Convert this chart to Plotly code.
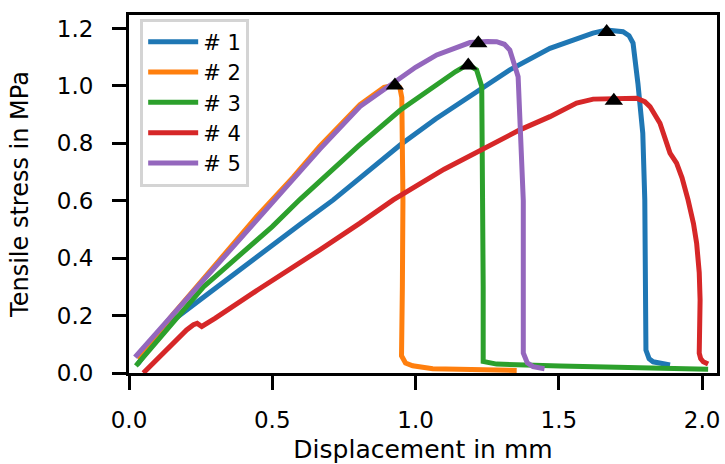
import plotly.graph_objects as go

# ---- data ----
names = ["# 1", "# 2", "# 3", "# 4", "# 5"]
colors = ["#1f77b4", "#ff7f0e", "#2ca02c", "#d62728", "#9467bd"]

x1 = [0.03, 0.08, 0.155, 0.30, 0.45, 0.60, 0.713, 0.83, 0.946, 1.07, 1.19, 1.329, 1.469,
      1.56, 1.619, 1.667, 1.724, 1.745, 1.759, 1.776, 1.793, 1.800, 1.802, 1.804, 1.815,
      1.829, 1.888]
y1 = [0.03, 0.10, 0.185, 0.295, 0.41, 0.52, 0.603, 0.70, 0.794, 0.885, 0.963, 1.056, 1.131,
      1.165, 1.184, 1.195, 1.189, 1.175, 1.149, 1.009, 0.835, 0.603, 0.30, 0.080, 0.05,
      0.039, 0.028]

x2 = [0.03, 0.15, 0.30, 0.45, 0.573, 0.666, 0.806, 0.89, 0.928, 0.945, 0.952, 0.956, 0.954,
      0.951, 0.965, 0.99, 1.06, 1.20, 1.353]
y2 = [0.05, 0.20, 0.375, 0.55, 0.682, 0.79, 0.935, 0.995, 1.003, 0.995, 0.96, 0.60, 0.30,
      0.06, 0.035, 0.025, 0.015, 0.011, 0.009]

x3 = [0.024, 0.10, 0.20, 0.26, 0.30, 0.40, 0.50, 0.597, 0.70, 0.80, 0.946, 1.074, 1.14,
      1.183, 1.213, 1.231, 1.236, 1.236, 1.236, 1.283, 1.504, 1.737, 2.021]
y3 = [0.025, 0.115, 0.235, 0.30, 0.335, 0.42, 0.51, 0.605, 0.70, 0.79, 0.915, 1.005, 1.05,
      1.075, 1.056, 0.998, 0.60, 0.30, 0.04, 0.031, 0.024, 0.019, 0.013]

x4 = [0.05, 0.10, 0.15, 0.201, 0.225, 0.238, 0.254, 0.30, 0.45, 0.60, 0.666, 0.806, 0.922,
      1.10, 1.25, 1.364, 1.469, 1.562, 1.62, 1.69, 1.771, 1.80, 1.818, 1.853, 1.875, 1.888,
      1.911, 1.93, 1.951, 1.97, 1.981, 1.99, 1.993, 1.992, 1.990, 1.995, 2.004, 2.021]
y4 = [0.0, 0.05, 0.10, 0.150, 0.168, 0.173, 0.162, 0.19, 0.29, 0.385, 0.429, 0.522, 0.603,
      0.71, 0.79, 0.847, 0.893, 0.940, 0.954, 0.957, 0.957, 0.945, 0.928, 0.870, 0.80, 0.766,
      0.731, 0.68, 0.603, 0.52, 0.452, 0.35, 0.254, 0.15, 0.069, 0.05, 0.039, 0.031]

x5 = [0.021, 0.15, 0.30, 0.45, 0.573, 0.666, 0.806, 0.928, 1.0, 1.074, 1.19, 1.25, 1.283,
      1.31, 1.329, 1.358, 1.37, 1.376, 1.376, 1.376, 1.39, 1.41, 1.45]
y5 = [0.055, 0.20, 0.37, 0.54, 0.672, 0.78, 0.928, 1.015, 1.065, 1.108, 1.151, 1.155, 1.154,
      1.145, 1.125, 1.032, 0.80, 0.60, 0.30, 0.07, 0.035, 0.022, 0.015]

peak_x = [1.667, 0.928, 1.184, 1.692, 1.219]
peak_y = [1.188, 1.001, 1.071, 0.948, 1.149]

x_ticks = [0.0, 0.5, 1.0, 1.5, 2.0]
y_ticks = [0.0, 0.2, 0.4, 0.6, 0.8, 1.0, 1.2]

xs = [x1, x2, x3, x4, x5]
ys = [y1, y2, y3, y4, y5]

fig = go.Figure()
for xv, yv, nm, col in zip(xs, ys, names, colors):
    fig.add_trace(go.Scatter(x=xv, y=yv, mode="lines", name=nm,
                             line=dict(color=col, width=5)))
fig.add_trace(go.Scatter(x=peak_x, y=peak_y, mode="markers", showlegend=False,
                         marker=dict(symbol="triangle-up", size=16, color="black")))

font_family = "DejaVu Sans"
axis_common = dict(
    showline=True, linecolor="black", linewidth=3, mirror=True,
    ticks="outside", ticklen=14, tickwidth=3, tickcolor="black",
    showgrid=False, zeroline=False,
    tickfont=dict(family=font_family, size=23, color="black"),
)

fig.update_xaxes(range=[0, 2.052], tickvals=x_ticks, ticktext=[f"{v:.1f}" for v in x_ticks],
                 title=dict(text="Displacement in mm", standoff=12,
                            font=dict(family=font_family, size=25, color="black")),
                 ticklabelstandoff=10, **axis_common)
fig.update_yaxes(range=[0, 1.247], tickvals=y_ticks, ticktext=[f"{v:.1f}" for v in y_ticks],
                 title=dict(text="Tensile stress in MPa", standoff=22,
                            font=dict(family=font_family, size=24, color="black")),
                 ticklabelstandoff=14, **axis_common)

fig.update_layout(
    width=725, height=464,
    margin=dict(l=129, r=8, t=15, b=91, autoexpand=False),
    paper_bgcolor="white", plot_bgcolor="white",
    font=dict(family=font_family, color="black"),
    legend=dict(x=0.019, y=0.99, xanchor="left", yanchor="top",
                bgcolor="rgba(255,255,255,0.85)", bordercolor="#d4d4d4", borderwidth=3,
                font=dict(family=font_family, size=21, color="black"),
                itemwidth=50, tracegroupgap=0),
    showlegend=True,
)

fig.write_html("out.html", config={"displayModeBar": False},
               post_script="document.body.style.margin='0';document.body.style.padding='0';")
